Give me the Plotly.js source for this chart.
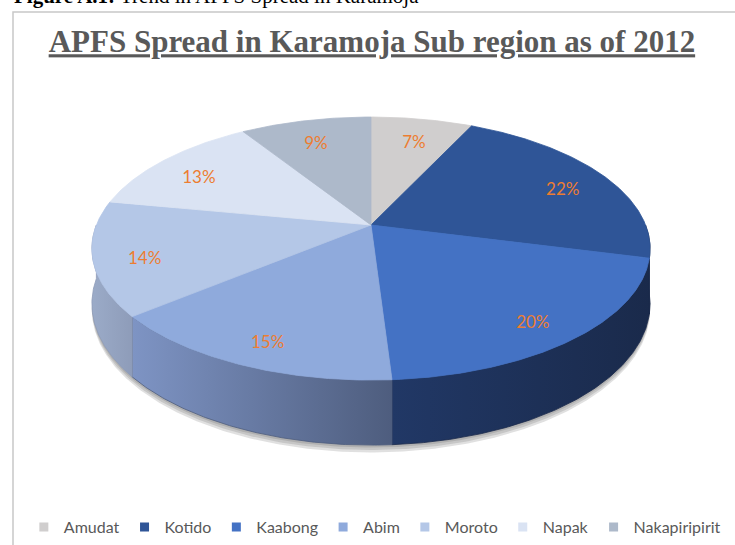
<!DOCTYPE html>
<html>
<head>
<meta charset="utf-8">
<script src="https://cdn.plot.ly/plotly-3.0.1.min.js"></script>
<style>
  html, body { margin: 0; padding: 0; background: #ffffff; }
  #chart { width: 735px; height: 545px; }
</style>
</head>
<body>
<div id="chart"></div>
<script>
// ---------------- data ----------------
const districts = ['Amudat', 'Kotido', 'Kaabong', 'Abim', 'Moroto', 'Napak', 'Nakapiripirit'];
const shares = [7, 22, 20, 15, 14, 13, 9];
const shareLabels = shares.map(function (s) { return s + '%'; });

// ---------------- styles ----------------
const topColors = ['#d0cece', '#2f5597', '#4472c4', '#8faadc', '#b4c7e7', '#dae3f3', '#adb9ca'];
const sideLeft  = ['#b3b1b1', '#1c2d50', '#213866', '#7e94c4', '#9babc8', '#c3ccd9', '#97a3b5'];
const sideRight = ['#a09e9e', '#1a2a48', '#1a2a4b', '#4e5d7e', '#8e9cb9', '#b5bfcd', '#8a95a6'];

// 3-D pie projection (perspective tilt) - geometry only
const K = 0.179;        // perspective strength
const TILT = 0.4636;    // vertical squash of the disc
const DEPTH = 0.1945;   // thickness of the disc
const LABEL_R = 0.82;   // label radius (fraction of disc radius)
const LABEL_DROP = 0.029;
const STEP = Math.PI / 360;

function rim(theta, r, drop) {
  const u = r * Math.sin(theta), v = r * Math.cos(theta);
  const d = 1 + K * v;
  return [u / d, (TILT * v - (drop || 0)) / d];
}
function arc(t1, t2, drop) {
  const pts = [];
  const n = Math.max(2, Math.ceil((t2 - t1) / STEP));
  for (let i = 0; i <= n; i++) pts.push(rim(t1 + (t2 - t1) * i / n, 1, drop));
  return pts;
}

const total = shares.reduce(function (a, b) { return a + b; }, 0);
const starts = [], ends = [];
let acc = 0;
shares.forEach(function (s) {
  starts.push(acc / total * 2 * Math.PI);
  acc += s;
  ends.push(acc / total * 2 * Math.PI);
});

const traces = [];

// soft shadow under the disc
[6, 4, 2].forEach(function (px) {
  const pts = arc(0, 2 * Math.PI, DEPTH + px / 274.6);
  traces.push({
    type: 'scatter', mode: 'lines', x: pts.map(p => p[0]), y: pts.map(p => p[1]),
    fill: 'toself', fillcolor: 'rgba(60,60,60,0.16)', line: { width: 0 },
    hoverinfo: 'skip', showlegend: false
  });
});

// side walls (front half only)
districts.forEach(function (name, i) {
  const a = Math.max(starts[i], Math.PI / 2);
  const b = Math.min(ends[i], 3 * Math.PI / 2);
  if (b <= a) return;
  const top = arc(a, b, 0);
  const bot = arc(a, b, DEPTH).reverse();
  const pts = top.concat(bot);
  pts.push(top[0]);
  traces.push({
    type: 'scatter', mode: 'lines', x: pts.map(p => p[0]), y: pts.map(p => p[1]),
    fill: 'toself', fillcolor: sideLeft[i],
    fillgradient: { type: 'horizontal', colorscale: [[0, sideLeft[i]], [1, sideRight[i]]] },
    line: { width: 0.8, color: sideRight[i] },
    hoverinfo: 'skip', showlegend: false
  });
});

// top faces
districts.forEach(function (name, i) {
  const pts = [[0, 0]].concat(arc(starts[i], ends[i], 0));
  pts.push([0, 0]);
  traces.push({
    type: 'scatter', mode: 'lines', x: pts.map(p => p[0]), y: pts.map(p => p[1]),
    fill: 'toself', fillcolor: topColors[i], line: { width: 0.8, color: topColors[i] },
    name: name, hoverinfo: 'skip', showlegend: false
  });
});

// percentage labels
const lx = [], ly = [];
districts.forEach(function (name, i) {
  const p = rim((starts[i] + ends[i]) / 2, LABEL_R, 0);
  lx.push(p[0]); ly.push(p[1] - LABEL_DROP);
});
traces.push({
  type: 'scatter', mode: 'text', x: lx, y: ly, text: shareLabels,
  textposition: 'middle center',
  textfont: { family: 'Lato, "Open Sans", sans-serif', size: 17, color: '#ed7d31' },
  hoverinfo: 'skip', showlegend: false
});

// legend entries
districts.forEach(function (name, i) {
  traces.push({
    type: 'scatter', mode: 'markers', x: [null], y: [null], name: name,
    marker: { symbol: 'square', size: 9, color: topColors[i], line: { width: 0 } },
    showlegend: true, hoverinfo: 'skip'
  });
});

const layout = {
  width: 735, height: 545,
  margin: { l: 0, r: 0, t: 0, b: 0 },
  paper_bgcolor: '#ffffff', plot_bgcolor: '#ffffff',
  hovermode: false,
  xaxis: { range: [-1.3510, 1.3256], visible: false, fixedrange: true },
  yaxis: { range: [-1.1653, 0.8194], visible: false, fixedrange: true },
  title: {
    text: '<b><u>APFS Spread in Karamoja Sub region as of 2012</u></b>',
    font: { family: '"Liberation Serif", "Times New Roman", serif', size: 31, color: '#595959' },
    x: 0.506, xanchor: 'center', xref: 'paper',
    y: 0.924, yanchor: 'middle', yref: 'container'
  },
  showlegend: true,
  legend: {
    orientation: 'h', x: 0.51, xanchor: 'center', y: 0.033, yanchor: 'middle',
    font: { family: 'Lato, "Open Sans", sans-serif', size: 16, color: '#595959' },
    bgcolor: 'rgba(0,0,0,0)', itemwidth: 30, traceorder: 'normal'
  },
  annotations: [{
    text: '<b>Figure A.1:</b> Trend in APFS Spread in Karamoja',
    xref: 'paper', yref: 'paper', x: 12 / 735, xanchor: 'left',
    y: 1 - 10 / 545, yanchor: 'bottom', showarrow: false,
    font: { family: '"Liberation Serif", "Times New Roman", serif', size: 21, color: '#000000' }
  }],
  shapes: [{
    type: 'rect', xref: 'paper', yref: 'paper',
    x0: 13 / 735, x1: 1.02, y0: -0.02, y1: 1 - 12 / 545,
    line: { color: '#c8c8c8', width: 1.5 }, fillcolor: 'rgba(0,0,0,0)', layer: 'below'
  }]
};

Plotly.newPlot('chart', traces, layout, { staticPlot: true, displayModeBar: false });
</script>
</body>
</html>
